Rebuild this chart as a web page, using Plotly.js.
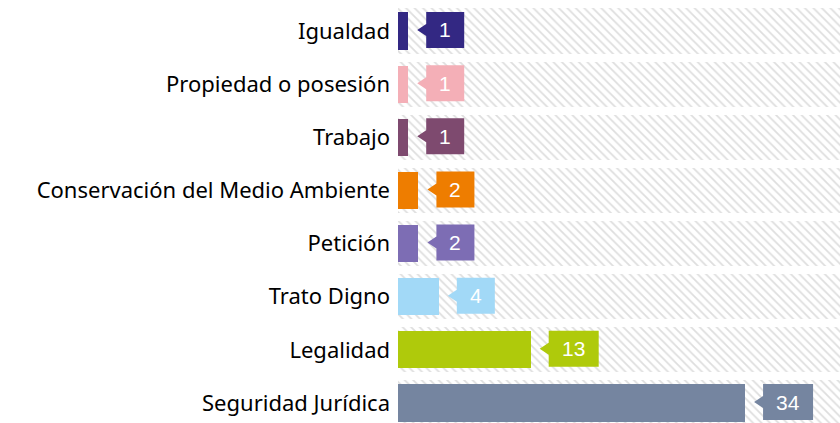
<!DOCTYPE html>
<html>
<head>
<meta charset="utf-8">
<script src="https://cdn.plot.ly/plotly-3.0.1.min.js"></script>
<style>html,body{margin:0;padding:0;background:#fff;}#chart{width:840px;height:423px;}</style>
</head>
<body>
<div id="chart"></div>
<script>
const categories = ['Igualdad','Propiedad o posesión','Trabajo','Conservación del Medio Ambiente','Petición','Trato Digno','Legalidad','Seguridad Jurídica'];
const values = [1, 1, 1, 2, 2, 4, 13, 34];
const colors = ['#332883','#F4AFB7','#7E4A6F','#EE7D00','#7D6DB4','#A2D9F7','#AFCA0B','#7585A0'];

const xMax = 43.3;
const idx = categories.map((c, i) => i);

const band = {
  type: 'bar', orientation: 'h', y: idx, x: idx.map(() => xMax + 5), width: 0.85,
  marker: {color: '#ffffff', line: {width: 0},
    pattern: {shape: '\\', fgcolor: '#dedede', bgcolor: '#ffffff', size: 6, solidity: 0.28}},
  hoverinfo: 'skip', showlegend: false
};
const bars = {
  type: 'bar', orientation: 'h', y: idx, x: values, width: 0.7,
  marker: {color: colors, line: {width: 0}}, showlegend: false
};

const shapes = [], annotations = [];
values.forEach((v, i) => {
  const w = String(v).length > 1 ? 50 : 38;
  const gap = 18;
  shapes.push({
    type: 'path', xref: 'x', yref: 'y', xsizemode: 'pixel', ysizemode: 'pixel',
    xanchor: v, yanchor: i,
    path: `M 9 1 L ${gap} 7 L ${gap} 19 L ${gap + w} 19 L ${gap + w} -17 L ${gap} -17 L ${gap} -5 Z`,
    fillcolor: colors[i], line: {width: 0}
  });
  annotations.push({
    x: v, y: i, xref: 'x', yref: 'y', xanchor: 'center', yanchor: 'middle',
    xshift: gap + w / 2, yshift: 1, text: String(v), showarrow: false,
    font: {family: 'Liberation Sans, Arial, sans-serif', size: 21, color: '#ffffff'}
  });
});

const layout = {
  width: 840, height: 423,
  margin: {l: 398, r: 0, t: 0, b: 0},
  paper_bgcolor: '#ffffff', plot_bgcolor: '#ffffff',
  barmode: 'overlay', bargap: 0,
  xaxis: {range: [0, xMax], showgrid: false, zeroline: false, showticklabels: false, showline: false},
  yaxis: {range: [7.376, -0.583], tickvals: idx, ticktext: categories, showgrid: false, zeroline: false,
    showline: false, ticks: '', ticklabelstandoff: 7,
    tickfont: {family: 'Noto Sans, sans-serif', size: 22, color: '#000000'}},
  shapes: shapes, annotations: annotations
};

Plotly.newPlot('chart', [band, bars], layout, {displayModeBar: false, staticPlot: true});
</script>
</body>
</html>
